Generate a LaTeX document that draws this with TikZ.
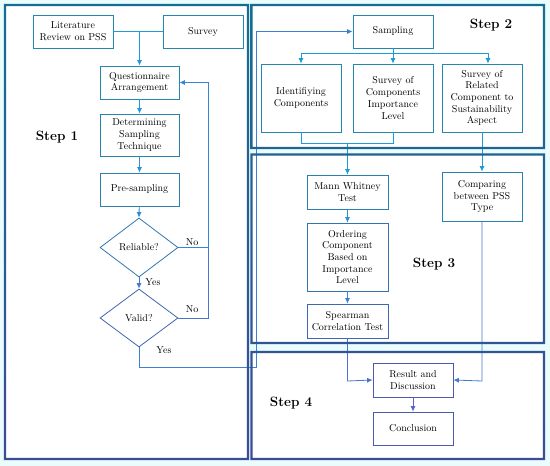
\documentclass[tikz,border=0pt]{standalone}
\usetikzlibrary{arrows.meta,shapes.geometric}
\definecolor{LT}{RGB}{30,155,215}
\definecolor{LB}{RGB}{90,100,200}
\definecolor{BT}{RGB}{35,135,175}
\definecolor{BB}{RGB}{75,90,175}
\definecolor{FT}{RGB}{20,110,145}
\definecolor{FB}{RGB}{60,75,150}
\definecolor{bgc}{RGB}{234,252,252}
\begin{document}
\begin{tikzpicture}[x=1pt,y=-1pt,
  txt/.style={font=\fontsize{10}{11.7}\selectfont, text=black},
  box/.style={draw=#1, line width=0.8pt, fill=white, align=center, inner sep=1pt, txt},
  dia/.style={draw=#1, line width=0.8pt, fill=white, diamond, inner sep=0pt, txt},
  con/.style={draw=#1, line width=0.8pt},
  arr/.style={draw=#1, line width=0.8pt, -{Latex[length=5.5pt,width=5pt]}},
  steplbl/.style={font=\fontsize{13.5}{15}\selectfont\bfseries, text=black}
]
\useasboundingbox (0,0) rectangle (550,466);
\fill[bgc] (0,0) rectangle (550,466);
% frame interiors
\fill[white] (5,5) rectangle (248,459);
\fill[white] (251.5,5) rectangle (544,148);
\fill[white] (251.5,154.5) rectangle (544,343);
\fill[white] (251.5,352) rectangle (544,459);

% Step 1 nodes
\node[box=BT, minimum width=80, minimum height=33] (lit) at (73,31.5) {Literature\\Review on PSS};
\node[box=BT, minimum width=80, minimum height=33] (survey) at (203,31.5) {Survey};
\node[box=BT, minimum width=79, minimum height=33] (qa) at (139.5,82.5) {Questionnaire\\Arrangement};
\node[box={BB!10!BT}, minimum width=79, minimum height=42] (dst) at (139.5,135) {Determining\\Sampling\\Technique};
\node[box={BB!20!BT}, minimum width=79, minimum height=33] (pre) at (139.5,189.5) {Pre-sampling};
\node[dia={BB!35!BT}, minimum width=78, minimum height=59] (rel) at (139,247.5) {Reliable?};
\node[dia={BB!70!BT}, minimum width=78, minimum height=58] (val) at (139,318) {Valid?};

% Step 2 nodes
\node[box=BT, minimum width=80, minimum height=33] (samp) at (393,31.5) {Sampling};
\node[box=BT, minimum width=80, minimum height=68] (idc) at (301,98) {Identifiying\\Components};
\node[box=BT, minimum width=80, minimum height=68] (sci) at (393,98) {Survey of\\Components\\Importance\\Level};
\node[box=BT, minimum width=80, minimum height=68] (srel) at (482,98) {Survey of\\Related\\Component to\\Sustainability\\Aspect};

% Step 3 nodes
\node[box={BB!15!BT}, minimum width=81, minimum height=34] (mw) at (347.5,192) {Mann Whitney\\Test};
\node[box={BB!45!BT}, minimum width=81, minimum height=68] (ord) at (347.5,257) {Ordering\\Component\\Based on\\Importance\\Level};
\node[box={BB!70!BT}, minimum width=81, minimum height=34] (spc) at (347.5,321) {Spearman\\Correlation Test};
\node[box={BB!15!BT}, minimum width=80, minimum height=49] (cmp) at (482,196.5) {Comparing\\between PSS\\Type};

% Step 4 nodes
\node[box=BB, minimum width=80, minimum height=34] (res) at (413,380) {Result and\\Discussion};
\node[box=BB, minimum width=80, minimum height=33] (conc) at (413,428.5) {Conclusion};

% coordinates
\coordinate (j1) at (139.5,31.5);
\coordinate (fb1) at (208,247.5);
\coordinate (fb2) at (208,318);
\coordinate (fbt) at (208,82.5);
\coordinate (y1) at (139,367);
\coordinate (y2) at (256,367);
\coordinate (y3) at (256,31.5);
\coordinate (b1) at (393,53);
\coordinate (bl) at (301,53);
\coordinate (br) at (488,53);
\coordinate (m1) at (301,143);
\coordinate (m2) at (393,143);
\coordinate (m3) at (347.5,143);
\coordinate (r1) at (347.5,381);
\coordinate (r2) at (482,381);

% Step 1 connectors
\draw[con=LT] (lit.east) -- (survey.west);
\draw[arr=LT] (j1) -- (qa.north);
\draw[arr=LT] (qa) -- (dst);
\draw[arr={LB!15!LT}] (dst) -- (pre);
\draw[arr={LB!30!LT}] (pre) -- (rel.north);
\draw[arr={LB!60!LT}] (rel.south) -- (val.north);
\draw[arr={LB!40!LT}] (rel.east) -- (fb1) -- (fbt) -- (qa.east);
\draw[con={LB!70!LT}] (val.east) -- (fb2) -- (fb1);
\draw[arr={LB!50!LT}] (val.south) -- (y1) -- (y2) -- (y3) -- (samp.west);
\node[txt] (no1) at (192,242) {No};
\node[txt] (no2) at (192,309) {No};
\node[txt] (yes1) at (153,282) {Yes};
\node[txt] (yes2) at (164,350) {Yes};

% Step 2 connectors
\draw[con=LT] (samp.south) -- (b1);
\draw[con=LT] (bl) -- (br);
\draw[arr=LT] (bl) -- (idc.north);
\draw[arr=LT] (b1) -- (sci.north);
\draw[arr=LT] (br) -- (br |- srel.north);
\draw[con=LT] (idc.south) -- (m1) -- (m2) -- (sci.south);
\draw[arr=LT] (m3) -- (mw.north);
\draw[arr=LT] (srel.south) -- (cmp.north);

% Step 3 connectors
\draw[arr={LB!20!LT}] (mw) -- (ord);
\draw[arr={LB!50!LT}] (ord) -- (spc);
\draw[arr={LB!70!LT}] (spc.south) -- (r1) -- (res.west);
\draw[arr={LB!60!LT}] (cmp.south) -- (r2) -- (res.east);

% Step 4 connector
\draw[arr=LB] (res) -- (conc);

% frames
\shade[top color=FT, bottom color=FB, even odd rule] (3.8,3.8) rectangle (249.2,460.2) (6.2,6.2) rectangle (246.8,457.8);
\shade[top color=FT, bottom color={FB!30!FT}, even odd rule] (250.3,3.8) rectangle (545.2,149.2) (252.7,6.2) rectangle (542.8,146.8);
\shade[top color={FB!33!FT}, bottom color={FB!74!FT}, even odd rule] (250.3,153.3) rectangle (545.2,344.2) (252.7,155.7) rectangle (542.8,341.8);
\shade[top color={FB!76!FT}, bottom color=FB, even odd rule] (250.3,350.8) rectangle (545.2,460.2) (252.7,353.2) rectangle (542.8,457.8);

% step labels
\node[steplbl] (s1) at (57,137) {Step 1};
\node[steplbl] (s2) at (491,25) {Step 2};
\node[steplbl] (s3) at (434,264) {Step 3};
\node[steplbl] (s4) at (291,403) {Step 4};
\end{tikzpicture}
\end{document}
